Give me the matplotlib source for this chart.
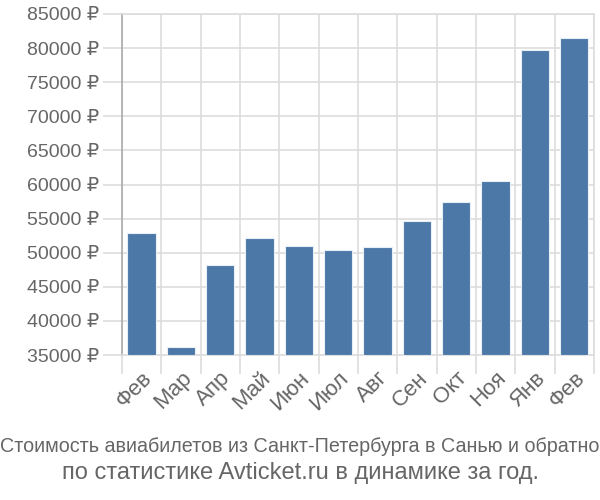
import matplotlib
matplotlib.use("Agg")
import matplotlib.pyplot as plt
from matplotlib.ticker import FuncFormatter, FixedLocator

plt.rcParams['font.family'] = ['Liberation Sans', 'DejaVu Sans']

months = ["Фев", "Мар", "Апр", "Май", "Июн", "Июл", "Авг", "Сен", "Окт", "Ноя", "Янв", "Фев"]
prices = [52850, 36200, 48250, 52100, 51000, 50400, 50900, 54700, 57400, 60500, 79700, 81500]
yticks = list(range(35000, 85001, 5000))

BAR = "#4c78a8"
TXT = "#666666"
GRID = "#dddddd"

fig = plt.figure(figsize=(6, 5), dpi=100)
ax = fig.add_axes([0.203, 0.29, 0.787, 0.682])

x = list(range(len(months)))
ax.bar(x, [p - 35000 for p in prices], bottom=35000, width=0.72,
       color=BAR, edgecolor="#e8eef5", linewidth=0.8, zorder=3)

ax.set_xlim(-0.5, len(months) - 0.5)
ax.set_ylim(35000, 85000)

# category boundaries carry the vertical grid, labels sit at the centres
ax.xaxis.set_major_locator(FixedLocator([i - 0.5 for i in range(len(months) + 1)]))
ax.xaxis.set_minor_locator(FixedLocator(x))
ax.set_xticklabels([])
ax.set_xticklabels(months, minor=True, rotation=45, ha="right", va="top",
                   rotation_mode="anchor", fontsize=16, color=TXT)
ax.tick_params(axis="x", which="major", length=14, color=GRID, width=1.2)
ax.tick_params(axis="x", which="minor", length=0, pad=9)

ax.set_yticks(yticks)
ax.yaxis.set_major_formatter(FuncFormatter(lambda v, _: f"{int(v)} ₽"))
ax.tick_params(axis="y", length=14, color=GRID, width=1.2, labelsize=14,
               labelcolor=TXT, pad=2)

ax.grid(True, color=GRID, linewidth=1.2, zorder=0)
ax.set_axisbelow(True)
for side in ("top", "right", "bottom"):
    ax.spines[side].set_color(GRID)
    ax.spines[side].set_linewidth(1.2)
ax.spines["left"].set_color("#aaaaaa")
ax.spines["left"].set_linewidth(1.2)
ax.xaxis.get_major_ticks()[0].tick1line.set_color("#aaaaaa")

fig.text(0.5, 0.107, "Стоимость авиабилетов из Санкт-Петербурга в Санью и обратно",
         ha="center", va="center", fontsize=14.2, color=TXT)
fig.text(0.5, 0.053, "по статистике Avticket.ru в динамике за год.",
         ha="center", va="center", fontsize=17, color=TXT)

fig.savefig("out.png", dpi=100)
